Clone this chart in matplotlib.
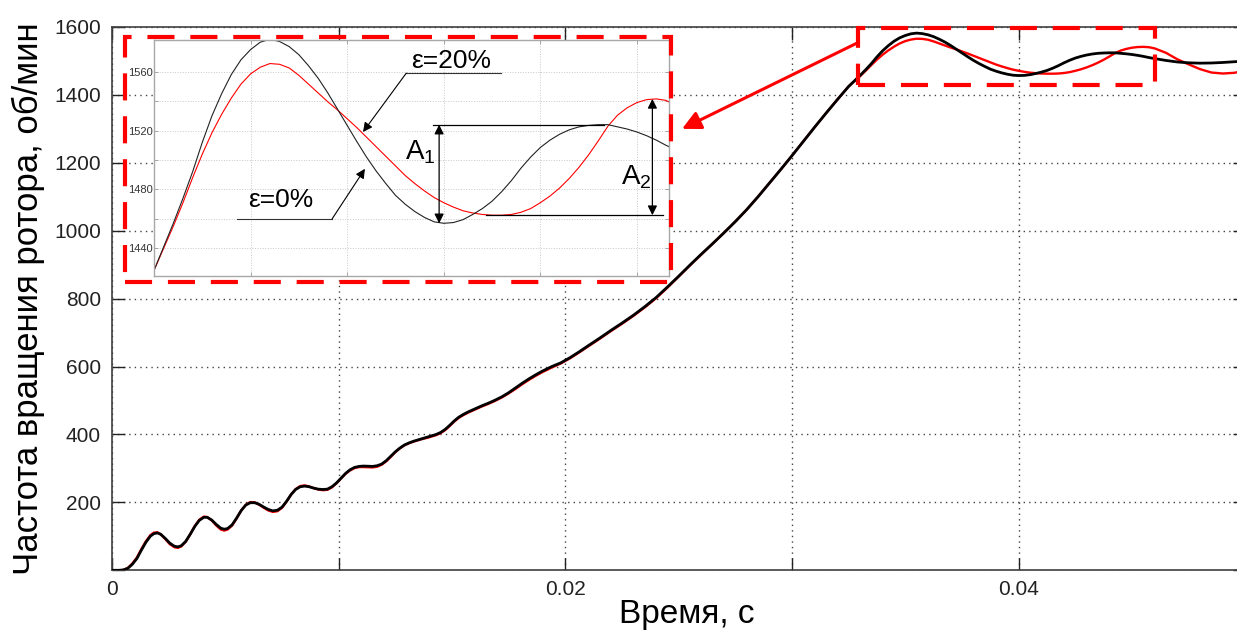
import matplotlib.pyplot as plt
from matplotlib.patches import Rectangle

plt.rcParams['font.family'] = ['Liberation Sans', 'DejaVu Sans']
plt.rcParams['mathtext.default'] = 'regular'

# time, ms
t_ms = [0, 0.3, 0.5, 0.7, 0.9, 1.1, 1.3, 1.5, 1.7, 1.85,
        2.0, 2.15, 2.35, 2.55, 2.75, 2.9, 3.05, 3.25, 3.45, 3.65,
        3.85, 4.05, 4.2, 4.4, 4.6, 4.8, 4.95, 5.1, 5.3, 5.5,
        5.7, 5.9, 6.1, 6.3, 6.5, 6.7, 6.9, 7.1, 7.3, 7.5,
        7.7, 7.9, 8.1, 8.3, 8.5, 8.7, 8.9, 9.1, 9.3, 9.5,
        9.7, 9.9, 10.1, 10.3, 10.5, 10.7, 10.9, 11.1, 11.3, 11.5,
        11.7, 11.9, 12.1, 12.3, 12.5, 12.7, 12.9, 13.1, 13.3, 13.5,
        13.7, 13.9, 14.1, 14.3, 14.5, 14.7, 14.9, 15.1, 15.3, 15.5,
        15.7, 15.9, 16.1, 16.3, 16.6, 16.9, 17.2, 17.5, 17.8, 18.1,
        18.4, 18.7, 19.0, 19.4, 19.8, 20.2, 20.6, 21.0, 21.5, 22.0,
        22.5, 23.0, 23.5, 24.0, 24.5, 25.0, 25.5, 26.0, 26.5, 27.0,
        27.5, 28.0, 28.5, 29.0, 29.5, 30.0, 30.5, 31.0, 31.5, 32.0,
        32.5, 32.75, 33.0, 33.25, 33.5, 33.75, 34.0, 34.25, 34.5, 34.75,
        35.0, 35.25, 35.5, 35.75, 36.0, 36.25, 36.5, 36.75, 37.0, 37.25,
        37.5, 37.75, 38.0, 38.25, 38.5, 38.75, 39.0, 39.25, 39.5, 39.75,
        40.0, 40.25, 40.5, 40.75, 41.0, 41.25, 41.5, 41.75, 42.0, 42.25,
        42.5, 42.75, 43.0, 43.25, 43.5, 43.75, 44.0, 44.25, 44.5, 44.75,
        45.0, 45.25, 45.5, 45.75, 46.0, 46.5, 47.0, 47.5, 48.0, 48.5,
        49.0, 49.5, 50.0]

# rotor speed, rpm, eps = 0%
n_eps0 = [0, 0, 1, 6, 18, 35, 60, 83, 101, 108,
          110, 106, 94, 80, 71, 69, 72, 85, 106, 129,
          147, 156, 156, 148, 135, 124, 121, 123, 134, 154,
          176, 192, 199, 199, 194, 186, 179, 175, 177, 186,
          203, 223, 238, 246, 248, 246, 242, 239, 238, 239,
          246, 257, 271, 285, 296, 303, 306, 307, 306.5, 306,
          308, 313, 323, 336, 349, 360, 369, 375, 380, 384,
          388, 392, 396, 400, 406, 415, 427, 440, 451, 459,
          466, 472, 478, 484, 492, 501, 511, 523, 537, 551,
          564, 576, 587, 600, 611, 626, 643, 661, 683, 706,
          728, 751, 776, 803, 834, 866, 899, 931, 962, 994,
          1027, 1062, 1100, 1140, 1180, 1221, 1263, 1305, 1346, 1386,
          1425, 1441, 1457, 1474, 1492, 1512, 1530, 1545, 1558, 1568,
          1575, 1580, 1582, 1580.5, 1577, 1571.5, 1564, 1555.5, 1545.5, 1534.5,
          1523.5, 1512.5, 1502, 1492.5, 1484, 1476, 1470, 1465, 1461, 1458,
          1457, 1457.5, 1459.5, 1463, 1467, 1472, 1478.5, 1486, 1494.5, 1502,
          1508.5, 1513.5, 1517.5, 1520.5, 1522.5, 1523.5, 1524, 1524, 1522.5, 1521,
          1519, 1516.5, 1513.5, 1510, 1507, 1501.5, 1497, 1494.5, 1493.5, 1494,
          1495.5, 1497.5, 1500]

# rotor speed, rpm, eps = 20%
n_eps20 = [0, 0, 1, 7, 20, 38, 63, 86, 104, 111,
           112, 106, 92, 77, 68, 66, 70, 84, 106, 130,
           149, 158, 157, 147, 132, 120, 117, 120, 132, 153,
           176, 193, 201, 200, 193, 184, 176, 172, 174, 184,
           202, 223, 239, 248, 250, 247, 242, 238, 236, 237,
           244, 256, 270, 284, 294, 301, 304, 304, 303.5, 303,
           305, 311, 321, 334, 348, 359, 368, 374, 379, 383,
           387, 390, 394, 398, 404, 413, 425, 438, 449, 457,
           464, 470, 476, 482, 490, 499, 509, 521, 534, 548,
           561, 573, 584, 597, 609, 624, 641, 659, 681, 704,
           726, 749, 774, 801, 832, 865, 898, 930, 962, 994,
           1027, 1062, 1100, 1140, 1180, 1221, 1263, 1305, 1346, 1386,
           1425, 1440, 1455, 1471, 1488, 1504, 1518.5, 1531, 1542, 1551.5,
           1558.5, 1563, 1565.5, 1565, 1562.5, 1557.5, 1551.5, 1545.5, 1539.5, 1534,
           1528, 1522, 1515.5, 1509, 1502.5, 1496, 1489.5, 1484, 1479, 1474.5,
           1471, 1468, 1465.5, 1464, 1463, 1462.5, 1462.5, 1463, 1464.5, 1467,
           1471, 1475.5, 1481, 1487.5, 1495, 1503.5, 1513, 1523, 1530.5, 1535.5,
           1539, 1541, 1541.5, 1540.5, 1537, 1524, 1505, 1490, 1476, 1466,
           1463, 1465, 1471]

x_ticks = [0.0, 0.01, 0.02, 0.03, 0.04, 0.05]
x_labels = ['0', '', '0.02', '', '0.04', '']
y_ticks = [0, 200, 400, 600, 800, 1000, 1200, 1400, 1600]
y_labels = ['', '200', '400', '600', '800', '1000', '1200', '1400', '1600']

in_xticks = [0.035, 0.0375, 0.04, 0.0425, 0.045]
in_yticks = [1440, 1460, 1480, 1500, 1520, 1540, 1560]
in_ylabels = ['1440', '', '1480', '', '1520', '', '1560']

t = [x / 1000 for x in t_ms]

W, H = 1237, 635
fig = plt.figure(figsize=(W / 100, H / 100), dpi=100)
ax = fig.add_axes([112 / W, 1 - 570.3 / H, 1133.3 / W, 543.3 / H])

ax.plot(t, n_eps20, color='#ff0000', lw=1.7, zorder=3)
ax.plot(t, n_eps0, color='black', lw=2.0, zorder=4)
ax.set_xlim(0, 0.05)
ax.set_ylim(0, 1600)
ax.set_xticks(x_ticks)
ax.set_xticklabels(x_labels)
ax.set_yticks(y_ticks)
ax.set_yticklabels(y_labels)
ax.grid(True, linestyle=(0, (1, 3)), color='#444444', lw=1)
ax.set_axisbelow(True)
ax.tick_params(direction='in', length=9, width=1, top=True, right=True,
               labelsize=15, colors='#222222')
ax.tick_params(axis='x', pad=7)
ax.tick_params(axis='y', pad=8)
for s in ax.spines.values():
    s.set_color('#404040')
    s.set_linewidth(1.2)

ax.set_ylabel('Частота вращения ротора, об/мин', fontsize=25)
ax.yaxis.set_label_coords(-0.059, 0.5)
ax.set_xlabel('Время, с', fontsize=24)
ax.xaxis.set_label_coords(0.507, -0.052)

# dashed box over the zoomed region and arrow to the inset
ax.add_patch(Rectangle((0.0329, 1430), 0.0131, 167, fill=False, ec='#ff0000',
                       lw=3, linestyle=(0, (6.5, 3.8)), zorder=6, clip_on=False))
ax.annotate('', xy=(0.02515, 1300), xytext=(0.03294, 1555),
            arrowprops=dict(arrowstyle='-|>', color='#ff0000', lw=2.2,
                            mutation_scale=28, shrinkA=0, shrinkB=0), zorder=6)

# inset
axin = fig.add_axes([154 / W, 1 - 276 / H, 515 / W, 236 / H])
axin.plot(t, n_eps20, color='#ff0000', lw=0.8)
axin.plot(t, n_eps0, color='#222222', lw=0.8)
axin.set_xlim(0.0325, 0.04583)
axin.set_ylim(1421.2, 1581.5)
axin.set_xticks(in_xticks)
axin.set_xticklabels([])
axin.set_yticks(in_yticks)
axin.set_yticklabels(in_ylabels)
axin.grid(True, linestyle=':', color='#c8c8c8', lw=0.7)
axin.tick_params(direction='in', length=3, width=0.6, top=True, right=True,
                 labelsize=8, pad=1, color='#999999', labelcolor='#333333')
for s in axin.spines.values():
    s.set_color('#a8a8a8')
    s.set_linewidth(1)

fig.add_artist(Rectangle((125 / W, 1 - 281.7 / H), 546 / W, 244.5 / H,
                         transform=fig.transFigure, fill=False, ec='#ff0000',
                         lw=3, linestyle=(0, (6.5, 3.8)), zorder=10))

arr = dict(arrowstyle='-|>', color='black', lw=0.8, mutation_scale=14,
           shrinkA=0, shrinkB=0)
# eps = 20 %
axin.text(0.0402, 1567, 'ε=20%', fontsize=19, ha='center', va='center')
axin.plot([0.03903, 0.04148], [1559, 1559], color='#333333', lw=0.8)
axin.annotate('', xy=(0.03791, 1519), xytext=(0.03903, 1559), arrowprops=arr)
# eps = 0 %
axin.text(0.03578, 1473, 'ε=0%', fontsize=19, ha='center', va='center')
axin.plot([0.03466, 0.03711], [1460, 1460], color='#333333', lw=0.8)
axin.annotate('', xy=(0.03796, 1494), xytext=(0.03711, 1460), arrowprops=arr)

# amplitudes
a1_top = max(v for x, v in zip(t, n_eps0) if x > 0.0425)
a1_bot = min(v for x, v in zip(t, n_eps0) if 0.038 < x < 0.042)
a2_top = max(v for x, v in zip(t, n_eps20) if x > 0.0435)
a2_bot = min(v for x, v in zip(t, n_eps20) if 0.040 < x < 0.043)
dbl = dict(arrowstyle='<|-|>', color='black', lw=0.9, mutation_scale=14,
           shrinkA=0, shrinkB=0)
axin.plot([0.03972, 0.04415], [a1_top, a1_top], color='black', lw=0.9)
axin.annotate('', xy=(0.03988, a1_bot), xytext=(0.03988, a1_top), arrowprops=dbl)
axin.text(0.0394, 1505, r'A$_1$', fontsize=20, ha='center', va='center')
axin.plot([0.0411, 0.04568], [a2_bot, a2_bot], color='black', lw=0.9)
axin.annotate('', xy=(0.0454, a2_bot), xytext=(0.0454, a2_top), arrowprops=dbl)
axin.text(0.04499, 1488, r'A$_2$', fontsize=20, ha='center', va='center')

fig.savefig('out.png', dpi=100)
